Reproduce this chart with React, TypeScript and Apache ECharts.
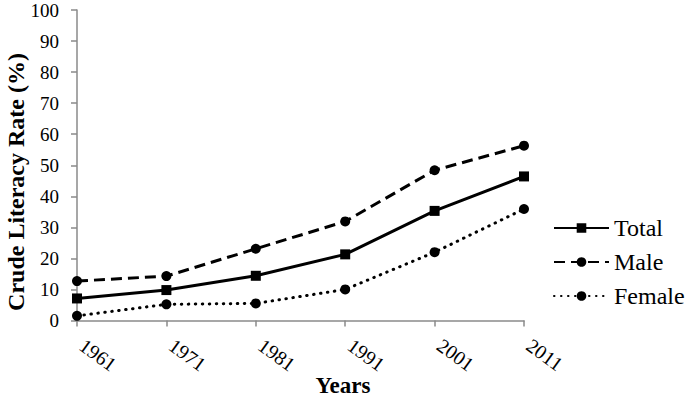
import React, { useEffect, useRef } from "react";
import * as echarts from "echarts";

const years = ["1961", "1971", "1981", "1991", "2001", "2011"];
const totalValues = [7.1, 9.8, 14.4, 21.3, 35.3, 46.4];
const maleValues = [12.7, 14.3, 23.1, 31.9, 48.4, 56.3];
const femaleValues = [1.5, 5.2, 5.5, 10.0, 22.0, 35.9];
const seriesNames = ["Total", "Male", "Female"];
const yTitle = "Crude Literacy Rate (%)";
const xTitle = "Years";

const FONT = "Liberation Serif";
const AXIS_COLOR = "#8a8a8a";

export default function App() {
  const ref = useRef<HTMLDivElement>(null);
  useEffect(() => {
    if (!ref.current) return;
    const chart = echarts.init(ref.current, undefined, { renderer: "svg" });
    chart.setOption({
      animation: false,
      backgroundColor: "#ffffff",
      textStyle: { fontFamily: FONT },
      grid: { left: 77, right: 161, top: 10, bottom: 80.5 },
      legend: {
        orient: "vertical",
        left: 553,
        top: 216,
        padding: 0,
        itemWidth: 55,
        itemHeight: 12,
        itemGap: 10,
        data: seriesNames,
        textStyle: { fontFamily: FONT, fontSize: 24, color: "#000" },
      },
      xAxis: {
        type: "category",
        boundaryGap: false,
        data: years,
        axisLine: { show: true, lineStyle: { color: AXIS_COLOR, width: 1.5 } },
        axisTick: { show: true, length: 6, lineStyle: { color: AXIS_COLOR, width: 1.5 } },
        axisLabel: {
          rotate: -36,
          margin: 19,
          padding: [0, 0, 0, 6],
          fontSize: 20,
          color: "#000",
          fontFamily: FONT,
        },
        splitLine: { show: false },
      },
      yAxis: {
        type: "value",
        min: 0,
        max: 100,
        interval: 10,
        axisLine: { show: true, lineStyle: { color: AXIS_COLOR, width: 1.5 } },
        axisTick: { show: true, length: 6, lineStyle: { color: AXIS_COLOR, width: 1.5 } },
        axisLabel: { fontSize: 19, color: "#000", margin: 18, fontFamily: FONT },
        splitLine: { show: false },
      },
      graphic: [
        {
          type: "text",
          x: 16,
          y: 182,
          rotation: Math.PI / 2,
          style: {
            text: yTitle,
            font: `bold 24px ${FONT}`,
            fill: "#000",
            textAlign: "center",
            textVerticalAlign: "middle",
          },
        },
        {
          type: "text",
          x: 343,
          y: 385,
          style: {
            text: xTitle,
            font: `bold 23px ${FONT}`,
            fill: "#000",
            textAlign: "center",
            textVerticalAlign: "middle",
          },
        },
      ],
      series: [
        {
          name: seriesNames[0],
          type: "line",
          data: totalValues,
          symbol: "rect",
          symbolSize: 10,
          itemStyle: { color: "#000" },
          lineStyle: { color: "#000", width: 3, type: "solid" },
        },
        {
          name: seriesNames[1],
          type: "line",
          data: maleValues,
          symbol: "circle",
          symbolSize: 10,
          itemStyle: { color: "#000" },
          lineStyle: { color: "#000", width: 3, type: [11, 6] },
        },
        {
          name: seriesNames[2],
          type: "line",
          data: femaleValues,
          symbol: "circle",
          symbolSize: 10,
          itemStyle: { color: "#000" },
          lineStyle: { color: "#000", width: 3, type: [0.5, 6.5], cap: "round" },
        },
      ],
    });
    return () => chart.dispose();
  }, []);
  return (
    <div
      ref={ref}
      style={{ position: "fixed", left: 0, top: 0, width: 685, height: 401 }}
    />
  );
}
